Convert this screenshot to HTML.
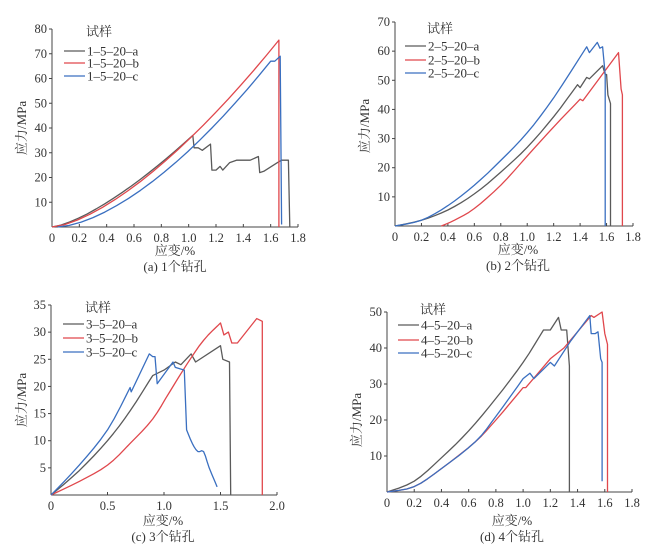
<!DOCTYPE html>
<html><head><meta charset="utf-8"><style>
body{margin:0;background:#fff}
svg{display:block}
text{font-family:"Liberation Serif","Noto Serif CJK SC",serif;fill:#333}
</style></head><body>
<svg id="s" width="656" height="558" xmlns="http://www.w3.org/2000/svg"></svg>
<script>
const S=document.getElementById('s');let h='';
const K='#5a5a5a',R='#e0474c',B='#3a6fc0';
function panel(p){
 const X=v=>p.x0+(v/p.xmax)*(p.x1-p.x0), Y=v=>p.y0-(v/p.ymax)*(p.y0-p.y1);
 h+=`<line x1="${p.x0}" y1="${p.y1}" x2="${p.x0}" y2="${p.y0}" stroke="#444" stroke-width="1"/>`;
 h+=`<line x1="${p.x0}" y1="${p.y0}" x2="${p.x1}" y2="${p.y0}" stroke="#444" stroke-width="1"/>`;
 p.xt.forEach(t=>{h+=`<line x1="${X(t)}" y1="${p.y0}" x2="${X(t)}" y2="${p.y0-3}" stroke="#444"/>`;
  h+=`<text x="${X(t)}" y="${p.y0+15}" font-size="12.5" text-anchor="middle">${t==0?'0':t.toFixed(1)}</text>`;});
 p.yt.forEach(t=>{h+=`<line x1="${p.x0}" y1="${Y(t)}" x2="${p.x0-3}" y2="${Y(t)}" stroke="#444"/>`;
  h+=`<text x="${p.x0-5}" y="${Y(t)+4}" font-size="12.5" text-anchor="end">${t}</text>`;});
 p.s.forEach(([c,pts])=>{h+=`<polyline fill="none" stroke="${c}" stroke-width="1.3" stroke-linejoin="round" points="${pts.map(q=>X(q[0]).toFixed(1)+','+Y(q[1]).toFixed(1)).join(' ')}"/>`;});
 const L=p.leg;h+=`<text x="${L.x+22}" y="${L.y}" font-size="13">试样</text>`;
 [K,R,B].forEach((c,i)=>{const yy=L.rows[i];h+=`<line x1="${L.x}" y1="${yy}" x2="${L.x+21}" y2="${yy}" stroke="${c}" stroke-width="1.3"/><text x="${L.x+23}" y="${yy+4.5}" font-size="13">${L.names[i]}</text>`;});
 h+=`<text transform="translate(${p.yl[0]},${p.yl[1]}) rotate(-90)" font-size="13" text-anchor="middle">应力/MPa</text>`;
 h+=`<text x="${p.xl[0]}" y="${p.xl[1]}" font-size="13" text-anchor="middle">应变/%</text>`;
 h+=`<text x="${p.xl[0]}" y="${p.xl[1]+16}" font-size="13" text-anchor="middle">${p.cap}</text>`;
}
function cv(x0,x1,y1,e,n){let a=[];for(let i=0;i<=n;i++){let x=x0+(x1-x0)*i/n;a.push([x,y1*Math.pow(i/n,e)]);}return a;}
function sm(pts,n){n=n||4;let o=[];for(let i=0;i<pts.length-1;i++){const p0=pts[Math.max(0,i-1)],p1=pts[i],p2=pts[i+1],p3=pts[Math.min(pts.length-1,i+2)];
 for(let k=0;k<n;k++){const t=k/n,t2=t*t,t3=t2*t;const f=(a,b,c,d)=>0.5*((2*b)+(-a+c)*t+(2*a-5*b+4*c-d)*t2+(-a+3*b-3*c+d)*t3);o.push([f(p0[0],p1[0],p2[0],p3[0]),f(p0[1],p1[1],p2[1],p3[1])]);}}
 o.push(pts[pts.length-1]);return o;}
const xt18=[0,0.2,0.4,0.6,0.8,1.0,1.2,1.4,1.6,1.8];
panel({x0:52,x1:298,xmax:1.8,y0:227,y1:29,ymax:80,xt:xt18,yt:[10,20,30,40,50,60,70,80],
 leg:{x:64,y:36,rows:[51,63,76],names:['1–5–20–a','1–5–20–b','1–5–20–c']},yl:[26,128],xl:[175,255],cap:'(a) 1个钻孔',
 s:[[K,cv(0,1.03,37,1.4,16).concat([[1.04,32],[1.07,32],[1.1,31],[1.16,33.5],[1.17,23],[1.2,23],[1.23,24.5],[1.25,23],[1.3,26],[1.35,27],[1.45,27],[1.51,28.5],[1.52,22],[1.55,22.5],[1.65,26],[1.68,27],[1.73,27],[1.74,0]])],
  [R,cv(0,1.66,75.5,1.5,18).concat([[1.66,0]])],
  [B,cv(0.04,1.6,67,1.6,18).concat([[1.63,67],[1.67,69],[1.68,1]])]]});
panel({x0:395,x1:633,xmax:1.8,y0:226,y1:22,ymax:70,xt:xt18,yt:[10,20,30,40,50,60,70],
 leg:{x:405,y:33,rows:[46,60,73],names:['2–5–20–a','2–5–20–b','2–5–20–c']},yl:[369,126],xl:[518,254],cap:'(b) 2个钻孔',
 s:[[K,sm([[0,0],[0.2,2],[0.4,5.5],[0.6,11],[0.8,18.5],[1.0,27],[1.2,37.5],[1.38,48.5]]).concat([[1.4,47.5],[1.45,51],[1.47,50.5],[1.57,55],[1.59,52],[1.6,52],[1.61,45],[1.63,42],[1.63,0]])],
  [R,sm([[0.35,0],[0.45,2],[0.6,6],[0.8,14],[1.0,24],[1.2,34],[1.4,43.5]]).concat([[1.42,43],[1.69,59.5],[1.71,47],[1.72,45],[1.72,0]])],
  [B,sm([[0,0],[0.2,2],[0.4,7],[0.6,14],[0.8,22.5],[1.0,32],[1.2,44],[1.45,61.5]]).concat([[1.47,59.5],[1.53,63],[1.55,61],[1.57,61.5],[1.59,52],[1.59,0]])]]});
panel({x0:51,x1:277,xmax:2.0,y0:495,y1:305,ymax:35,xt:[0,0.5,1.0,1.5,2.0],yt:[5,10,15,20,25,30,35],
 leg:{x:63,y:312,rows:[324,338,352],names:['3–5–20–a','3–5–20–b','3–5–20–c']},yl:[26,400],xl:[163,525],cap:'(c) 3个钻孔',
 s:[[K,sm([[0,0],[0.25,4.5],[0.5,10],[0.7,15.5],[0.9,22]]).concat([[1.0,23],[1.1,24.5],[1.15,24],[1.24,26],[1.28,24.5],[1.5,27.5],[1.52,25],[1.58,24.5],[1.59,0]])],
  [R,sm([[0,0],[0.25,2.5],[0.5,5.5],[0.7,9.5],[0.9,14],[1.05,19],[1.2,24],[1.35,28.5],[1.5,31.7]]).concat([[1.53,29.5],[1.57,30],[1.6,28],[1.65,28],[1.82,32.5],[1.87,32],[1.87,0]])],
  [B,sm([[0,0],[0.25,5.5],[0.5,12],[0.7,19.8]]).concat([[0.71,19],[0.87,26],[0.9,25.5],[0.92,25.5],[0.94,20.5],[1.08,24.5],[1.1,23.5],[1.18,23]]).concat(sm([[1.2,12],[1.25,9.5],[1.3,8],[1.35,8],[1.4,5],[1.47,1.5]],3))]]});
panel({x0:387,x1:632,xmax:1.8,y0:492,y1:312,ymax:50,xt:xt18,yt:[10,20,30,40,50],
 leg:{x:398,y:314,rows:[325,340,353],names:['4–5–20–a','4–5–20–b','4–5–20–c']},yl:[361,420],xl:[512,525],cap:'(d) 4个钻孔',
 s:[[K,sm([[0,0],[0.2,3],[0.4,9.5],[0.6,17],[0.8,26],[1.0,36],[1.15,45]]).concat([[1.2,45],[1.26,48.5],[1.28,45],[1.32,45],[1.34,35],[1.34,0]])],
  [R,sm([[0,0],[0.2,1.5],[0.4,6.5],[0.65,14],[0.8,20],[1.0,29]]).concat([[1.02,29],[1.2,37],[1.3,40],[1.5,49],[1.52,48.5],[1.58,50],[1.6,44],[1.62,41],[1.62,0]])],
  [B,sm([[0,0],[0.2,1.5],[0.4,6.5],[0.65,14],[0.8,21],[1.0,31.5]]).concat([[1.05,33],[1.08,31.5],[1.2,36],[1.23,35],[1.35,42],[1.49,49],[1.5,44],[1.53,44],[1.55,44.5],[1.57,37],[1.58,36],[1.58,3]])]]});
S.innerHTML=h;
</script>
</body></html>
